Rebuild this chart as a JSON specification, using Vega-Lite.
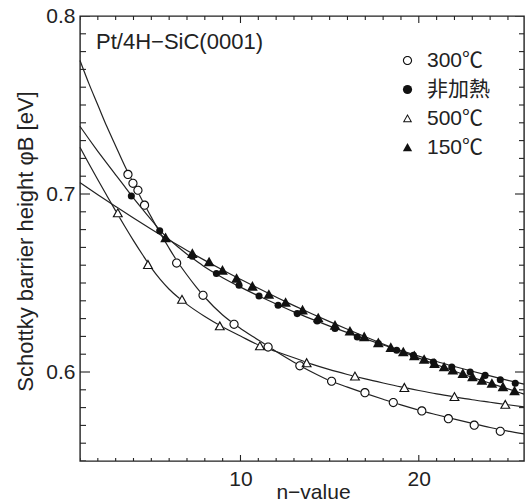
{
  "$schema": "https://vega.github.io/schema/vega-lite/v6.json",
  "width": 444,
  "height": 445,
  "autosize": {"type": "none"},
  "padding": {"left": 80, "top": 16, "right": 4, "bottom": 42},
  "config": {
    "view": {"stroke": "#222", "strokeWidth": 1.4},
    "font": "Liberation Sans, Noto Sans CJK JP",
    "axis": {
      "grid": false, "domain": false, "ticks": false,
      "labelColor": "#222", "titleColor": "#222",
      "labelFont": "Liberation Sans, Noto Sans CJK JP", "titleFont": "Liberation Sans, Noto Sans CJK JP",
      "labelFontSize": 21, "titleFontSize": 21, "titleFontWeight": "normal",
      "labelFlush": false, "labelOverlap": false
    }
  },
  "datasets": {
    "curves": [
      {"s": "300℃", "n": 1, "phi": 0.775}, {"s": "300℃", "n": 1.5, "phi": 0.762}, {"s": "300℃", "n": 2, "phi": 0.750},
      {"s": "300℃", "n": 2.5, "phi": 0.738}, {"s": "300℃", "n": 3, "phi": 0.727}, {"s": "300℃", "n": 3.5, "phi": 0.716},
      {"s": "300℃", "n": 4, "phi": 0.706}, {"s": "300℃", "n": 4.5, "phi": 0.6962}, {"s": "300℃", "n": 5, "phi": 0.687},
      {"s": "300℃", "n": 5.5, "phi": 0.678}, {"s": "300℃", "n": 6, "phi": 0.6695}, {"s": "300℃", "n": 6.5, "phi": 0.6615},
      {"s": "300℃", "n": 7, "phi": 0.6545}, {"s": "300℃", "n": 7.5, "phi": 0.648}, {"s": "300℃", "n": 8, "phi": 0.642},
      {"s": "300℃", "n": 9, "phi": 0.632}, {"s": "300℃", "n": 10, "phi": 0.6245}, {"s": "300℃", "n": 11, "phi": 0.618},
      {"s": "300℃", "n": 12, "phi": 0.6115}, {"s": "300℃", "n": 13, "phi": 0.6055}, {"s": "300℃", "n": 14, "phi": 0.600},
      {"s": "300℃", "n": 15, "phi": 0.5952}, {"s": "300℃", "n": 16, "phi": 0.5915}, {"s": "300℃", "n": 17, "phi": 0.588},
      {"s": "300℃", "n": 18, "phi": 0.5847}, {"s": "300℃", "n": 19, "phi": 0.5815}, {"s": "300℃", "n": 20, "phi": 0.5786},
      {"s": "300℃", "n": 21, "phi": 0.576}, {"s": "300℃", "n": 22, "phi": 0.5735}, {"s": "300℃", "n": 23, "phi": 0.5711},
      {"s": "300℃", "n": 24, "phi": 0.5688}, {"s": "300℃", "n": 25, "phi": 0.5668}, {"s": "300℃", "n": 25.9, "phi": 0.5652},

      {"s": "非加熱", "n": 1, "phi": 0.738}, {"s": "非加熱", "n": 1.5, "phi": 0.7309}, {"s": "非加熱", "n": 2, "phi": 0.724},
      {"s": "非加熱", "n": 2.5, "phi": 0.7173}, {"s": "非加熱", "n": 3, "phi": 0.7108}, {"s": "非加熱", "n": 3.5, "phi": 0.7043},
      {"s": "非加熱", "n": 3.88, "phi": 0.6992}, {"s": "非加熱", "n": 4.5, "phi": 0.6915}, {"s": "非加熱", "n": 5, "phi": 0.6855},
      {"s": "非加熱", "n": 5.47, "phi": 0.6797}, {"s": "非加熱", "n": 6, "phi": 0.6745}, {"s": "非加熱", "n": 6.5, "phi": 0.6702},
      {"s": "非加熱", "n": 7, "phi": 0.6662}, {"s": "非加熱", "n": 7.3, "phi": 0.664}, {"s": "非加熱", "n": 8, "phi": 0.659},
      {"s": "非加熱", "n": 8.65, "phi": 0.655}, {"s": "非加熱", "n": 9, "phi": 0.653}, {"s": "非加熱", "n": 10, "phi": 0.6477},
      {"s": "非加熱", "n": 11, "phi": 0.6428}, {"s": "非加熱", "n": 12, "phi": 0.6382}, {"s": "非加熱", "n": 13, "phi": 0.6338},
      {"s": "非加熱", "n": 14, "phi": 0.6297}, {"s": "非加熱", "n": 15, "phi": 0.6258}, {"s": "非加熱", "n": 16, "phi": 0.6221},
      {"s": "非加熱", "n": 17, "phi": 0.6186}, {"s": "非加熱", "n": 18, "phi": 0.6152}, {"s": "非加熱", "n": 19, "phi": 0.612},
      {"s": "非加熱", "n": 20, "phi": 0.6089}, {"s": "非加熱", "n": 21, "phi": 0.6059}, {"s": "非加熱", "n": 22, "phi": 0.6031},
      {"s": "非加熱", "n": 23, "phi": 0.6004}, {"s": "非加熱", "n": 24, "phi": 0.5978}, {"s": "非加熱", "n": 25, "phi": 0.5953},
      {"s": "非加熱", "n": 25.9, "phi": 0.5932},

      {"s": "500℃", "n": 1, "phi": 0.7262}, {"s": "500℃", "n": 1.5, "phi": 0.717}, {"s": "500℃", "n": 2, "phi": 0.708},
      {"s": "500℃", "n": 2.5, "phi": 0.6992}, {"s": "500℃", "n": 3, "phi": 0.6905}, {"s": "500℃", "n": 3.5, "phi": 0.682},
      {"s": "500℃", "n": 4, "phi": 0.6738}, {"s": "500℃", "n": 4.5, "phi": 0.666}, {"s": "500℃", "n": 5, "phi": 0.6585},
      {"s": "500℃", "n": 5.5, "phi": 0.652}, {"s": "500℃", "n": 6, "phi": 0.6465}, {"s": "500℃", "n": 6.5, "phi": 0.642},
      {"s": "500℃", "n": 7, "phi": 0.638}, {"s": "500℃", "n": 8, "phi": 0.6312}, {"s": "500℃", "n": 9, "phi": 0.6253},
      {"s": "500℃", "n": 10, "phi": 0.6202}, {"s": "500℃", "n": 11, "phi": 0.6152}, {"s": "500℃", "n": 12, "phi": 0.6115},
      {"s": "500℃", "n": 13, "phi": 0.608}, {"s": "500℃", "n": 14, "phi": 0.6044}, {"s": "500℃", "n": 15, "phi": 0.6013},
      {"s": "500℃", "n": 16, "phi": 0.5986}, {"s": "500℃", "n": 17, "phi": 0.5961}, {"s": "500℃", "n": 18, "phi": 0.5938},
      {"s": "500℃", "n": 19, "phi": 0.5916}, {"s": "500℃", "n": 20, "phi": 0.5896}, {"s": "500℃", "n": 21, "phi": 0.5877},
      {"s": "500℃", "n": 22, "phi": 0.586}, {"s": "500℃", "n": 23, "phi": 0.5844}, {"s": "500℃", "n": 24, "phi": 0.583},
      {"s": "500℃", "n": 25, "phi": 0.5816}, {"s": "500℃", "n": 25.9, "phi": 0.5804},

      {"s": "150℃", "n": 1, "phi": 0.7064}, {"s": "150℃", "n": 2, "phi": 0.6996}, {"s": "150℃", "n": 3, "phi": 0.693},
      {"s": "150℃", "n": 4, "phi": 0.6865}, {"s": "150℃", "n": 5, "phi": 0.6802}, {"s": "150℃", "n": 6, "phi": 0.6741},
      {"s": "150℃", "n": 7, "phi": 0.6683}, {"s": "150℃", "n": 8, "phi": 0.6627}, {"s": "150℃", "n": 9, "phi": 0.6573},
      {"s": "150℃", "n": 10, "phi": 0.6521}, {"s": "150℃", "n": 11, "phi": 0.647}, {"s": "150℃", "n": 12, "phi": 0.6421},
      {"s": "150℃", "n": 13, "phi": 0.6373}, {"s": "150℃", "n": 14, "phi": 0.6327}, {"s": "150℃", "n": 15, "phi": 0.6283},
      {"s": "150℃", "n": 16, "phi": 0.624}, {"s": "150℃", "n": 17, "phi": 0.6198}, {"s": "150℃", "n": 18, "phi": 0.6157},
      {"s": "150℃", "n": 19, "phi": 0.6117}, {"s": "150℃", "n": 20, "phi": 0.6078}, {"s": "150℃", "n": 21, "phi": 0.6041},
      {"s": "150℃", "n": 22, "phi": 0.6005}, {"s": "150℃", "n": 23, "phi": 0.597}, {"s": "150℃", "n": 24, "phi": 0.5937},
      {"s": "150℃", "n": 25, "phi": 0.5905}, {"s": "150℃", "n": 25.9, "phi": 0.5876}
    ],
    "points": [
      {"s": "300℃", "n": 3.69, "phi": 0.711}, {"s": "300℃", "n": 3.97, "phi": 0.706}, {"s": "300℃", "n": 4.25, "phi": 0.7021},
      {"s": "300℃", "n": 4.62, "phi": 0.6937}, {"s": "300℃", "n": 6.42, "phi": 0.6612}, {"s": "300℃", "n": 7.9, "phi": 0.6431},
      {"s": "300℃", "n": 9.64, "phi": 0.6268}, {"s": "300℃", "n": 11.55, "phi": 0.614}, {"s": "300℃", "n": 13.33, "phi": 0.6035},
      {"s": "300℃", "n": 15.11, "phi": 0.5948}, {"s": "300℃", "n": 16.98, "phi": 0.5884}, {"s": "300℃", "n": 18.57, "phi": 0.5828},
      {"s": "300℃", "n": 20.17, "phi": 0.5781}, {"s": "300℃", "n": 21.66, "phi": 0.5738}, {"s": "300℃", "n": 23.11, "phi": 0.5701},
      {"s": "300℃", "n": 24.57, "phi": 0.5667},

      {"s": "非加熱", "n": 3.88, "phi": 0.6989}, {"s": "非加熱", "n": 5.47, "phi": 0.6794}, {"s": "非加熱", "n": 7.3, "phi": 0.665},
      {"s": "非加熱", "n": 8.65, "phi": 0.6553}, {"s": "非加熱", "n": 9.92, "phi": 0.6487}, {"s": "非加熱", "n": 11.04, "phi": 0.6427},
      {"s": "非加熱", "n": 12.11, "phi": 0.6375}, {"s": "非加熱", "n": 13.18, "phi": 0.6328}, {"s": "非加熱", "n": 14.3, "phi": 0.6287},
      {"s": "非加熱", "n": 15.3, "phi": 0.6244}, {"s": "非加熱", "n": 16.55, "phi": 0.6197}, {"s": "非加熱", "n": 17.73, "phi": 0.616},
      {"s": "非加熱", "n": 18.76, "phi": 0.6122}, {"s": "非加熱", "n": 19.7, "phi": 0.6094}, {"s": "非加熱", "n": 20.82, "phi": 0.6056},
      {"s": "非加熱", "n": 21.85, "phi": 0.6028}, {"s": "非加熱", "n": 22.88, "phi": 0.6}, {"s": "非加熱", "n": 23.72, "phi": 0.5981},
      {"s": "非加熱", "n": 24.57, "phi": 0.5956}, {"s": "非加熱", "n": 25.41, "phi": 0.5937},

      {"s": "500℃", "n": 3.12, "phi": 0.6893}, {"s": "500℃", "n": 4.81, "phi": 0.6603}, {"s": "500℃", "n": 6.72, "phi": 0.6407},
      {"s": "500℃", "n": 8.84, "phi": 0.6258}, {"s": "500℃", "n": 11.09, "phi": 0.6146}, {"s": "500℃", "n": 13.71, "phi": 0.6051},
      {"s": "500℃", "n": 16.42, "phi": 0.5976}, {"s": "500℃", "n": 19.19, "phi": 0.5912}, {"s": "500℃", "n": 22.0, "phi": 0.5861},
      {"s": "500℃", "n": 24.85, "phi": 0.5817},

      {"s": "150℃", "n": 5.8, "phi": 0.6753}, {"s": "150℃", "n": 7.3, "phi": 0.6665}, {"s": "150℃", "n": 8.24, "phi": 0.6618},
      {"s": "150℃", "n": 8.99, "phi": 0.6571}, {"s": "150℃", "n": 9.78, "phi": 0.6525}, {"s": "150℃", "n": 10.67, "phi": 0.6481},
      {"s": "150℃", "n": 11.59, "phi": 0.6435}, {"s": "150℃", "n": 12.53, "phi": 0.639}, {"s": "150℃", "n": 13.48, "phi": 0.6347},
      {"s": "150℃", "n": 14.36, "phi": 0.6303}, {"s": "150℃", "n": 15.3, "phi": 0.6262}, {"s": "150℃", "n": 16.14, "phi": 0.6229},
      {"s": "150℃", "n": 16.94, "phi": 0.6197}, {"s": "150℃", "n": 17.73, "phi": 0.6163}, {"s": "150℃", "n": 18.43, "phi": 0.6137},
      {"s": "150℃", "n": 19.13, "phi": 0.6112}, {"s": "150℃", "n": 19.75, "phi": 0.609}, {"s": "150℃", "n": 20.3, "phi": 0.607},
      {"s": "150℃", "n": 20.88, "phi": 0.6047}, {"s": "150℃", "n": 21.42, "phi": 0.6028}, {"s": "150℃", "n": 21.91, "phi": 0.601},
      {"s": "150℃", "n": 22.47, "phi": 0.5991}, {"s": "150℃", "n": 23.01, "phi": 0.5972}, {"s": "150℃", "n": 23.54, "phi": 0.5953},
      {"s": "150℃", "n": 24.1, "phi": 0.5935}, {"s": "150℃", "n": 24.72, "phi": 0.5916}, {"s": "150℃", "n": 25.37, "phi": 0.5893}
    ],
    "ticksX": [
      {"v": 1}, {"v": 2}, {"v": 3}, {"v": 4}, {"v": 5}, {"v": 6}, {"v": 7}, {"v": 8}, {"v": 9}, {"v": 10},
      {"v": 11}, {"v": 12}, {"v": 13}, {"v": 14}, {"v": 15}, {"v": 16}, {"v": 17}, {"v": 18}, {"v": 19}, {"v": 20},
      {"v": 21}, {"v": 22}, {"v": 23}, {"v": 24}, {"v": 25}
    ],
    "ticksY": [
      {"v": 0.55}, {"v": 0.56}, {"v": 0.57}, {"v": 0.58}, {"v": 0.59}, {"v": 0.6}, {"v": 0.61}, {"v": 0.62}, {"v": 0.63},
      {"v": 0.64}, {"v": 0.65}, {"v": 0.66}, {"v": 0.67}, {"v": 0.68}, {"v": 0.69}, {"v": 0.7}, {"v": 0.71}, {"v": 0.72},
      {"v": 0.73}, {"v": 0.74}, {"v": 0.75}, {"v": 0.76}, {"v": 0.77}, {"v": 0.78}, {"v": 0.79}, {"v": 0.8}
    ],
    "notes": [{"t": "Pt/4H−SiC(0001)", "n": 1.9, "phi": 0.7817}]
  },
  "resolve": {"axis": {"x": "independent", "y": "independent"}},
  "layer": [
    {
      "data": {"name": "curves"},
      "mark": {"type": "line", "interpolate": "monotone", "stroke": "#222", "strokeWidth": 1.2},
      "encoding": {
        "x": {
          "field": "n", "type": "quantitative",
          "scale": {"domain": [1, 25.9], "nice": false, "zero": false},
          "axis": {
            "orient": "bottom", "values": [10, 20], "ticks": false,
            "labelPadding": 7, "labelBaseline": "top",
            "title": "n−value", "titleX": 233, "titleY": 37, "titleAlign": "center", "titleBaseline": "alphabetic"
          }
        },
        "y": {
          "field": "phi", "type": "quantitative",
          "scale": {"domain": [0.55, 0.8], "nice": false, "zero": false},
          "axis": {
            "orient": "left", "values": [0.6, 0.7, 0.8], "format": ".1f", "ticks": false,
            "labelPadding": 5,
            "title": "Schottky barrier height φB [eV]", "titleFontSize": 22, "titleX": -55, "titleY": 225, "titleAngle": 270,
            "titleAlign": "center", "titleBaseline": "middle"
          }
        },
        "detail": {"field": "s", "type": "nominal"}
      }
    },
    {
      "data": {"name": "ticksX"},
      "mark": {"type": "tick", "orient": "vertical", "color": "#222", "thickness": 1.1, "opacity": 1, "clip": true},
      "encoding": {
        "x": {"field": "v", "type": "quantitative", "axis": null},
        "y": {"datum": 0.55, "type": "quantitative", "axis": null},
        "size": {"condition": {"test": "datum.v % 10 === 0", "value": 12}, "value": 6}
      }
    },
    {
      "data": {"name": "ticksX"},
      "mark": {"type": "tick", "orient": "vertical", "color": "#222", "thickness": 1.1, "opacity": 1, "clip": true},
      "encoding": {
        "x": {"field": "v", "type": "quantitative", "axis": null},
        "y": {"datum": 0.8, "type": "quantitative", "axis": null},
        "size": {"condition": {"test": "datum.v % 10 === 0", "value": 14}, "value": 8}
      }
    },
    {
      "data": {"name": "ticksY"},
      "mark": {"type": "tick", "orient": "horizontal", "color": "#222", "thickness": 1.1, "opacity": 1, "clip": true},
      "encoding": {
        "x": {"datum": 1, "type": "quantitative", "axis": null},
        "y": {"field": "v", "type": "quantitative", "axis": null},
        "size": {"condition": {"test": "abs(datum.v*10 - round(datum.v*10)) < 0.001", "value": 20}, "value": 12}
      }
    },
    {
      "data": {"name": "ticksY"},
      "mark": {"type": "tick", "orient": "horizontal", "color": "#222", "thickness": 1.1, "opacity": 1, "clip": true},
      "encoding": {
        "x": {"datum": 25.9, "type": "quantitative", "axis": null},
        "y": {"field": "v", "type": "quantitative", "axis": null},
        "size": {"condition": {"test": "abs(datum.v*10 - round(datum.v*10)) < 0.001", "value": 18}, "value": 10}
      }
    },
    {
      "data": {"name": "points"},
      "transform": [{"filter": {"field": "s", "oneOf": ["300℃", "500℃"]}}],
      "mark": {"type": "point", "filled": true, "color": "white", "opacity": 1},
      "encoding": {
        "x": {"field": "n", "type": "quantitative", "axis": null},
        "y": {"field": "phi", "type": "quantitative", "axis": null},
        "shape": {"condition": {"test": "datum.s === '500℃'", "value": "M0,-1L1,0.8L-1,0.8Z"}, "value": "circle"},
        "size": {"condition": {"test": "datum.s === '500℃'", "value": 115}, "value": 85}
      }
    },
    {
      "data": {"name": "points"},
      "mark": {"type": "point", "filled": true, "color": "#111", "opacity": 1},
      "encoding": {
        "x": {"field": "n", "type": "quantitative", "axis": null},
        "y": {"field": "phi", "type": "quantitative", "axis": null},
        "shape": {
          "field": "s", "type": "nominal",
          "scale": {
            "domain": ["300℃", "非加熱", "500℃", "150℃"],
            "range": [
              "M-1,0A1,1 0 1,1 1,0A1,1 0 1,1 -1,0ZM-0.76,0A0.76,0.76 0 1,0 0.76,0A0.76,0.76 0 1,0 -0.76,0Z",
              "circle",
              "M0,-1L1,0.8L-1,0.8ZM0,-0.55L-0.639,0.6L0.639,0.6Z",
              "M0,-1L1,0.8L-1,0.8Z"
            ]
          },
          "legend": {
            "orient": "none", "legendX": 317, "legendY": 34, "title": null,
            "labelFontSize": 21, "labelColor": "#222",
            "symbolSize": 85, "symbolFillColor": "#111", "symbolStrokeWidth": 0,
            "rowPadding": 7, "labelOffset": 9, "padding": 0
          }
        },
        "size": {
          "condition": [
            {"test": "datum.s === '非加熱'", "value": 50},
            {"test": "datum.s === '500℃' || datum.s === '150℃'", "value": 115}
          ],
          "value": 85
        }
      }
    },
    {
      "data": {"name": "notes"},
      "mark": {"type": "text", "align": "left", "baseline": "alphabetic", "fontSize": 22, "color": "#222", "font": "Liberation Sans"},
      "encoding": {
        "x": {"field": "n", "type": "quantitative", "axis": null},
        "y": {"field": "phi", "type": "quantitative", "axis": null},
        "text": {"field": "t"}
      }
    }
  ]
}
